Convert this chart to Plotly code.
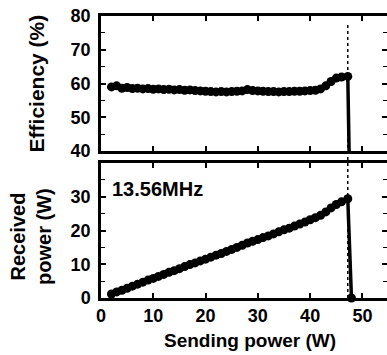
import plotly.graph_objects as go

# Sending power (W)
sending_power = [2, 3, 4, 5, 6, 7, 8, 9, 10, 11, 12, 13, 14, 15, 16, 17, 18, 19, 20,
                 21, 22, 23, 24, 25, 26, 27, 28, 29, 30, 31, 32, 33, 34, 35, 36, 37,
                 38, 39, 40, 41, 42, 43, 44, 45, 46, 47.2, 47.9]
# Efficiency (%)
efficiency = [59.0, 59.3, 58.6, 58.8, 58.5, 58.6, 58.4, 58.5, 58.3, 58.4, 58.2, 58.3,
              58.1, 58.2, 58.0, 58.1, 57.9, 57.8, 57.7, 57.6, 57.5, 57.6, 57.5, 57.6,
              57.7, 57.8, 58.2, 57.9, 57.8, 57.7, 57.6, 57.6, 57.5, 57.6, 57.6, 57.7,
              57.7, 57.8, 57.9, 58.0, 58.4, 59.3, 60.6, 61.6, 61.9, 62.1, 0.0]
# Received power (W)
received_power = [1.2, 1.8, 2.3, 2.9, 3.5, 4.1, 4.7, 5.3, 5.8, 6.4, 7.0, 7.6, 8.1, 8.7,
                  9.3, 9.9, 10.4, 11.0, 11.5, 12.1, 12.7, 13.2, 13.8, 14.4, 15.0, 15.6,
                  16.3, 16.8, 17.3, 17.9, 18.4, 19.0, 19.6, 20.2, 20.7, 21.3, 21.9, 22.5,
                  23.2, 23.8, 24.5, 25.5, 26.7, 27.7, 28.5, 29.4, 0.0]
cutoff_power = 47.2
x_ticks = [0, 10, 20, 30, 40, 50]
eff_ticks = [40, 50, 60, 70, 80]
rec_ticks = [0, 10, 20, 30]

FONT = "Liberation Sans, Arial, sans-serif"

fig = go.Figure()
fig.add_trace(go.Scatter(x=sending_power, y=efficiency, mode="lines+markers",
                         line=dict(color="black", width=3.5),
                         marker=dict(color="black", size=9),
                         xaxis="x2", yaxis="y2", cliponaxis=True, showlegend=False))
fig.add_trace(go.Scatter(x=sending_power, y=received_power, mode="lines+markers",
                         line=dict(color="black", width=3.5),
                         marker=dict(color="black", size=9),
                         xaxis="x", yaxis="y", cliponaxis=False, showlegend=False))

common_x = dict(range=[0, 54.7], tickvals=x_ticks, ticks="inside", ticklen=5,
                tickwidth=1.5, tickcolor="black", showline=True, linecolor="black",
                linewidth=2.5, mirror="ticks", showgrid=False, zeroline=False,
                automargin=False, ticklabeloverflow="allow")
common_y = dict(ticks="inside", ticklen=5, tickwidth=1.5, tickcolor="black",
                showline=True, linecolor="black", linewidth=2.5, mirror="ticks",
                showgrid=False, zeroline=False, automargin=False,
                ticklabeloverflow="allow",
                minor=dict(dtick=5, ticks="inside", ticklen=4, tickwidth=1.2,
                           tickcolor="black"),
                tickfont=dict(family=FONT, size=18, color="black", weight="bold"),
                ticklabelstandoff=4)

top_dom = [(298 - 151) / 282, 1.0]
bot_dom = [0.0, (298 - 163) / 282]

fig.update_layout(
    width=387, height=355,
    margin=dict(l=101, r=0, t=16, b=57),
    paper_bgcolor="white", plot_bgcolor="white",
    xaxis=dict(**common_x, domain=[0, 1], anchor="y",
               tickfont=dict(family=FONT, size=18, color="black", weight="bold"),
               ticklabelstandoff=0),
    yaxis=dict(**common_y, domain=bot_dom, range=[0, 40], tickvals=rec_ticks, anchor="x"),
    xaxis2=dict(**common_x, domain=[0, 1], anchor="y2", showticklabels=False),
    yaxis2=dict(**common_y, domain=top_dom, range=[40, 80], tickvals=eff_ticks, anchor="x2"),
    shapes=[dict(type="line", xref="x", yref="paper", x0=cutoff_power, x1=cutoff_power,
                 y0=0, y1=0.979, line=dict(color="black", width=1.5, dash="dot"))],
    annotations=[
        dict(text="Efficiency (%)", xref="paper", yref="paper", x=-0.224,
             y=(top_dom[0] + top_dom[1]) / 2, textangle=-90, showarrow=False,
             xanchor="center", yanchor="middle",
             font=dict(family=FONT, size=21, color="black", weight="bold")),
        dict(text="Received<br>power (W)", xref="paper", yref="paper", x=-0.245,
             y=0.22, textangle=-90, showarrow=False, xanchor="center", yanchor="middle",
             font=dict(family=FONT, size=20, color="black", weight="bold")),
        dict(text="Sending power (W)", xref="paper", yref="paper", x=0.521, y=-0.149,
             showarrow=False, xanchor="center", yanchor="middle",
             font=dict(family=FONT, size=19, color="black", weight="bold")),
        dict(text="13.56MHz", xref="paper", yref="paper", x=0.031, y=0.388,
             showarrow=False, xanchor="left", yanchor="middle",
             font=dict(family=FONT, size=20, color="black", weight="bold")),
    ],
)

# Remove the browser's default 8px body margin so the figure fills the window.
fig.write_html("out.html", config={"displayModeBar": False},
               post_script="document.body.style.margin='0';")
